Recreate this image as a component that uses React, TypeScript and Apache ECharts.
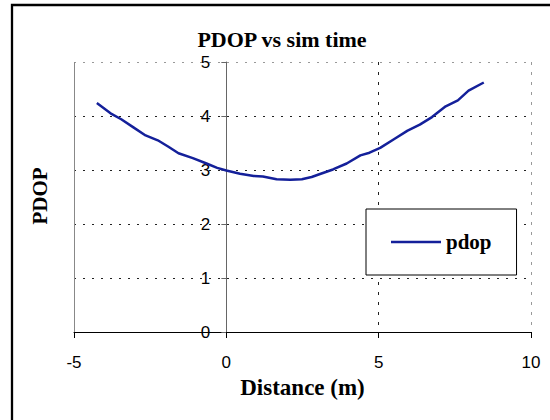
import React, { useEffect, useRef } from "react";
import * as echarts from "echarts";

// Distance along the track (m) and the PDOP computed at each sample
const distance = [
  -4.25, -3.8, -3.45, -3.05, -2.65, -2.25, -1.9, -1.57, -1.1, -0.65, -0.3, 0,
  0.45, 0.9, 1.2, 1.65, 2.1, 2.48, 2.8, 3.1, 3.5, 3.95, 4.4, 4.7, 5.05, 5.5,
  5.95, 6.35, 6.75, 7.2, 7.6, 7.95, 8.45,
];
const pdop = [
  4.24, 4.05, 3.94, 3.79, 3.64, 3.55, 3.43, 3.31, 3.22, 3.12, 3.04, 2.99,
  2.93, 2.89, 2.88, 2.83, 2.82, 2.83, 2.87, 2.93, 3.01, 3.12, 3.27, 3.32,
  3.41, 3.57, 3.73, 3.84, 3.98, 4.18, 4.29, 4.47, 4.62,
];

const seriesName = "pdop";
const chartTitle = "PDOP vs sim time";
const xTitle = "Distance (m)";
const yTitle = "PDOP";

const X_MIN = -5;
const X_MAX = 10;

const serif = "'Liberation Serif', 'Times New Roman', serif";
const sans = "'Liberation Sans', Arial, sans-serif";

const GRID_LEFT = 74;
const GRID_WIDTH = 457;
// the value axis crosses the category axis at x = 0
const Y_AXIS_SHIFT = (GRID_WIDTH * (0 - X_MIN)) / (X_MAX - X_MIN);

export default function App() {
  const ref = useRef<HTMLDivElement>(null);

  useEffect(() => {
    if (!ref.current) return;
    const chart = echarts.init(ref.current, undefined, { renderer: "svg" });
    const points = distance.map((d, i) => [d, pdop[i]]);

    chart.setOption({
      animation: false,
      backgroundColor: "#ffffff",
      title: {
        text: chartTitle,
        left: 282,
        top: 28,
        padding: 0,
        textAlign: "center",
        textStyle: {
          fontFamily: serif,
          fontWeight: "bold",
          fontSize: 22,
          lineHeight: 22,
          color: "#000",
        },
      },
      graphic: [
        {
          type: "rect",
          silent: true,
          shape: { x: 12, y: 5, width: 600, height: 500 },
          style: { fill: "none", stroke: "#000", lineWidth: 2.3 },
        },
        {
          type: "text",
          silent: true,
          x: 40,
          y: 196,
          rotation: Math.PI / 2,
          style: {
            text: yTitle,
            fontFamily: serif,
            fontWeight: "bold",
            fontSize: 21,
            fill: "#000",
            align: "center",
            verticalAlign: "middle",
          },
        },
      ],
      legend: {
        left: 366,
        top: 209,
        orient: "vertical",
        padding: [22, 25, 22, 25],
        itemWidth: 50,
        itemHeight: 2.5,
        icon: "rect",
        backgroundColor: "#fff",
        borderColor: "#000",
        borderWidth: 1,
        textStyle: {
          fontFamily: serif,
          fontWeight: "bold",
          fontSize: 21,
          lineHeight: 22,
          color: "#000",
        },
        data: [seriesName],
      },
      grid: { left: GRID_LEFT, top: 62, width: GRID_WIDTH, height: 270 },
      xAxis: {
        type: "value",
        min: X_MIN,
        max: X_MAX,
        interval: 5,
        name: xTitle,
        nameLocation: "middle",
        nameGap: 41,
        nameTextStyle: {
          fontFamily: serif,
          fontWeight: "bold",
          fontSize: 23,
          lineHeight: 23,
          color: "#000",
        },
        axisLine: { show: true, lineStyle: { color: "#000", width: 1 } },
        axisTick: { show: true, inside: false, length: 6, lineStyle: { color: "#000" } },
        axisLabel: {
          margin: 22,
          fontFamily: sans,
          fontSize: 17,
          lineHeight: 17,
          color: "#000",
        },
        splitLine: {
          show: true,
          lineStyle: { color: ["#888", "#888", "#222", "#999"], type: [3, 7], width: 1 },
        },
      },
      yAxis: {
        type: "value",
        min: 0,
        max: 5,
        interval: 1,
        position: "left",
        offset: -Y_AXIS_SHIFT,
        axisLine: { show: true, onZero: false, lineStyle: { color: "#666", width: 1 } },
        axisTick: { show: true, inside: false, length: 5, lineStyle: { color: "#666" } },
        axisLabel: {
          margin: 16,
          fontFamily: sans,
          fontSize: 17,
          lineHeight: 17,
          color: "#000",
        },
        splitLine: {
          show: true,
          lineStyle: {
            color: ["#000", "#222", "#222", "#222", "#222", "#999"],
            type: [2, 7],
            width: 1,
          },
        },
      },
      series: [
        {
          name: seriesName,
          type: "line",
          data: points,
          symbol: "none",
          showSymbol: false,
          lineStyle: { color: "#14209a", width: 2.5 },
          itemStyle: { color: "#14209a" },
          markLine: {
            silent: true,
            symbol: "none",
            label: { show: false },
            lineStyle: { color: "#888", type: "solid", width: 1 },
            data: [{ xAxis: X_MIN }],
          },
        },
      ],
    });

    return () => chart.dispose();
  }, []);

  return (
    <div
      ref={ref}
      style={{ position: "fixed", left: 0, top: 0, width: 550, height: 420 }}
    />
  );
}
